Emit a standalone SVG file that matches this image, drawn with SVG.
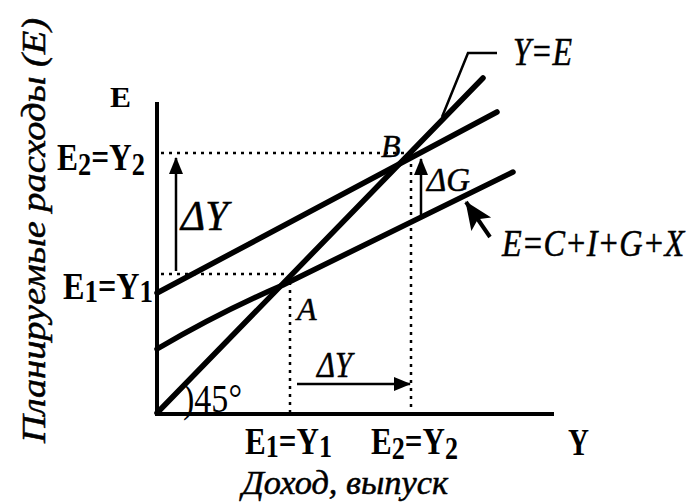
<svg xmlns="http://www.w3.org/2000/svg" width="695" height="504" viewBox="0 0 695 504">
<style>
.axis{stroke:#000;stroke-width:4;fill:none}
.ln{stroke:#000;stroke-width:5.5;fill:none;stroke-linecap:round}
.dot{stroke:#000;stroke-width:2.5;stroke-dasharray:3 5;fill:none}
.arr{stroke:#000;stroke-width:2.5;fill:none}
text{font-family:"Liberation Serif","DejaVu Serif","Noto Serif",serif;fill:#000}
.b{font-weight:bold;font-size:37px}
.sub{font-size:31px}
.i{font-style:italic;stroke:#000;stroke-width:0.5}
</style>
<defs>
<marker id="ah" markerUnits="userSpaceOnUse" markerWidth="18" markerHeight="16" refX="16" refY="7" orient="auto">
<path d="M0,0 L17,7 L0,14 Z" fill="#000"/>
</marker>
<marker id="big" markerUnits="userSpaceOnUse" markerWidth="30" markerHeight="26" refX="27" refY="12" orient="auto">
<path d="M0,0 L28,12 L0,24 L6,12 Z" fill="#000"/>
</marker>
</defs>
<g id="axes">
<line class="axis" x1="157" y1="102" x2="157" y2="416"/>
<line class="axis" x1="155" y1="414" x2="554" y2="414"/>
</g>
<g id="connectors">
<line class="dot" x1="161" y1="153" x2="404" y2="153"/>
<line class="dot" x1="161" y1="274" x2="286" y2="274"/>
<line class="dot" x1="290" y1="282" x2="290" y2="412"/>
<line class="dot" x1="411" y1="164" x2="411" y2="412"/>
<line class="arr" x1="176" y1="271" x2="176" y2="158" marker-end="url(#ah)"/>
<line class="arr" x1="421" y1="216" x2="421" y2="159" marker-end="url(#ah)"/>
<line class="arr" x1="297" y1="384" x2="410" y2="384" marker-end="url(#ah)"/>
<line stroke="#000" stroke-width="4" x1="490" y1="237" x2="466" y2="202" marker-end="url(#big)"/>
<polyline class="arr" points="442,117 468,53 497,53"/>
</g>
<g id="line-ye">
<line class="ln" x1="157" y1="413" x2="483" y2="78"/>
</g>
<g id="line-e2">
<line class="ln" x1="157" y1="293" x2="497" y2="112"/>
</g>
<g id="line-e1">
<path class="ln" d="M157,349 Q220,312 283,285 L513,172"/>
</g>
<g id="labels">
<text class="i" font-size="34" transform="translate(45,443) rotate(-90)" textLength="425" lengthAdjust="spacingAndGlyphs">Планируемые расходы (E)</text>
<text class="b" style="font-size:29px" x="110" y="107" textLength="21" lengthAdjust="spacingAndGlyphs">E</text>
<text class="b" transform="translate(57,170) scale(0.85,1)">E<tspan class="sub" dy="5">2</tspan><tspan dy="-5">=Y</tspan><tspan class="sub" dy="5">2</tspan></text>
<text class="b" transform="translate(63,299) scale(0.87,1)">E<tspan class="sub" dy="3">1</tspan><tspan dy="-3">=Y</tspan><tspan class="sub" dy="3">1</tspan></text>
<text class="b" transform="translate(245,454) scale(0.84,1)">E<tspan class="sub" dy="3">1</tspan><tspan dy="-3">=Y</tspan><tspan class="sub" dy="3">1</tspan></text>
<text class="b" transform="translate(371,454) scale(0.84,1)">E<tspan class="sub" dy="5">2</tspan><tspan dy="-5">=Y</tspan><tspan class="sub" dy="5">2</tspan></text>
<text class="b" x="568" y="455" textLength="21" lengthAdjust="spacingAndGlyphs">Y</text>
<text class="i" font-size="33" x="242" y="494" textLength="206" lengthAdjust="spacingAndGlyphs">Доход, выпуск</text>
<text class="i" font-size="40" x="513" y="65" textLength="59" lengthAdjust="spacingAndGlyphs">Y=E</text>
<text class="i" font-size="38" transform="translate(502,256) scale(0.85,1)">E=C+I+G+X</text>
<text class="i" font-size="42" x="181" y="230" textLength="47" lengthAdjust="spacingAndGlyphs">ΔY</text>
<text class="i" font-size="34" x="427" y="191" textLength="43" lengthAdjust="spacingAndGlyphs">ΔG</text>
<text class="i" font-size="36" x="317" y="377" textLength="35" lengthAdjust="spacingAndGlyphs">ΔY</text>
<text class="i" font-size="32" x="381" y="157">B</text>
<text class="i" font-size="32" x="297" y="320">A</text>
<text font-size="40" x="183" y="412" textLength="59" lengthAdjust="spacingAndGlyphs">)45°</text>
</g>
</svg>
